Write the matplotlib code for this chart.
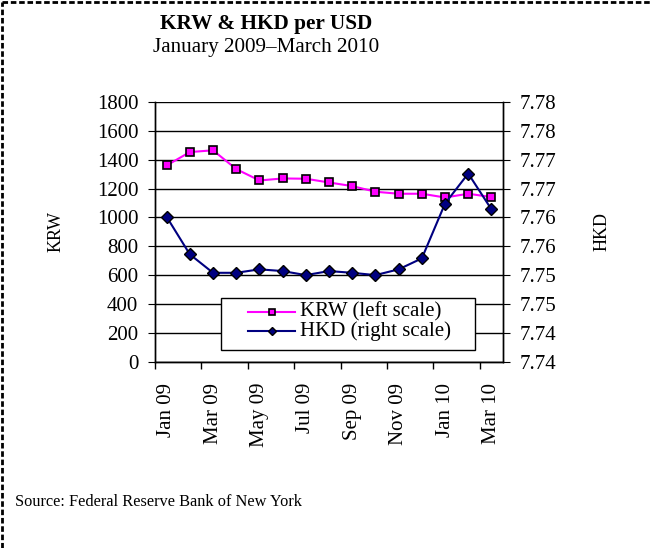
import matplotlib
matplotlib.use("Agg")
import matplotlib.pyplot as plt
from matplotlib.lines import Line2D
from matplotlib.patches import Rectangle

plt.rcParams['font.family'] = ['Liberation Serif', 'DejaVu Serif']

# monthly averages, Jan 2009 - Mar 2010
months = ['Jan 09', 'Feb 09', 'Mar 09', 'Apr 09', 'May 09', 'Jun 09', 'Jul 09',
          'Aug 09', 'Sep 09', 'Oct 09', 'Nov 09', 'Dec 09', 'Jan 10', 'Feb 10', 'Mar 10']
krw = [1360, 1453, 1465, 1335, 1256, 1270, 1268, 1242, 1217, 1178, 1164, 1164, 1138, 1164, 1141]
hkd = [7.7651, 7.7586, 7.7554, 7.7554, 7.7560, 7.7557, 7.7550, 7.7557, 7.7554, 7.7550,
       7.7560, 7.7579, 7.7674, 7.7726, 7.7664]

krw_ticks = [0, 200, 400, 600, 800, 1000, 1200, 1400, 1600, 1800]
hkd_ticks = [7.740, 7.745, 7.750, 7.755, 7.760, 7.765, 7.770, 7.775, 7.780, 7.785]
hkd_tick_labels = ['7.74', '7.74', '7.75', '7.75', '7.76', '7.76', '7.77', '7.77', '7.78', '7.78']

KRW_COLOR = '#FF00FF'
HKD_COLOR = '#000080'
krw_style = dict(color=KRW_COLOR, lw=1.5, marker='s', mfc=KRW_COLOR, mec='black', mew=1.2)
hkd_style = dict(color=HKD_COLOR, lw=1.5, marker='D', mfc=HKD_COLOR, mec='black', mew=1.0)

fig = plt.figure(figsize=(6.5, 5.48), dpi=100)
ax = fig.add_axes([0.2385, 0.340, 0.5354, 0.4739])
ax2 = ax.twinx()

x = list(range(len(months)))

ax.plot(x, krw, ms=6, **krw_style)
ax2.plot(x, hkd, ms=6, **hkd_style)

ax.set_xlim(-0.5, len(months) - 0.5)
ax.set_ylim(0, 1800)
ax.set_yticks(krw_ticks)
ax2.set_ylim(hkd_ticks[0], hkd_ticks[-1])
ax2.set_yticks(hkd_ticks)
ax2.set_yticklabels(hkd_tick_labels)

# category boundaries get the ticks, every other month gets a label
ax.set_xticks([i - 0.5 for i in range(0, len(months), 2)])
ax.set_xticklabels([])
ax.set_xticks(x[::2], minor=True)
ax.set_xticklabels(months[::2], minor=True, rotation=90, fontsize=15)
ax.tick_params(axis='x', which='minor', length=0, pad=15)
ax.tick_params(axis='x', which='major', length=5, width=1, direction='out')
ax.tick_params(axis='y', labelsize=15, length=5, direction='out', pad=7)
ax2.tick_params(axis='y', labelsize=15, length=5, direction='out', pad=7)

ax.grid(axis='y', color='black', lw=1)
ax.set_axisbelow(True)
for a in (ax, ax2):
    a.spines['top'].set_visible(False)
    for s in ('left', 'right', 'bottom'):
        a.spines[s].set_linewidth(1)

ax.set_ylabel('KRW', fontsize=13)
ax.yaxis.set_label_coords(-0.259, 0.5)
ax2.set_ylabel('HKD', fontsize=13)
ax2.yaxis.set_label_coords(1.259, 0.5)

# legend box, drawn in axes coordinates
ax2.add_patch(Rectangle((0.19, 0.045), 0.73, 0.20, transform=ax2.transAxes,
                        facecolor='white', edgecolor='black', lw=1, zorder=5))
for yy, style, name in ((0.191, krw_style, 'KRW (left scale)'),
                        (0.118, hkd_style, 'HKD (right scale)')):
    line_style = {k: v for k, v in style.items() if k not in ('marker', 'mfc', 'mec', 'mew')}
    ax2.add_line(Line2D([0.267, 0.402], [yy, yy], transform=ax2.transAxes,
                        zorder=6, **line_style))
    ax2.add_line(Line2D([0.335], [yy], transform=ax2.transAxes, ls='none',
                        ms=4.5, zorder=7,
                        **{k: v for k, v in style.items() if k not in ('lw',)}))
    ax2.text(0.417, yy, name, transform=ax2.transAxes, ha='left', va='center',
             fontsize=15, zorder=8)

fig.text(0.409, 0.957, 'KRW & HKD per USD', ha='center', va='center',
         fontsize=15.3, fontweight='bold')
fig.text(0.409, 0.914, 'January 2009\u2013March 2010', ha='center', va='center',
         fontsize=15.2)
fig.text(0.023, 0.084, 'Source: Federal Reserve Bank of New York', ha='left',
         va='center', fontsize=11.8)

# dashed frame along top and left edges
fig.add_artist(Line2D([0.003, 1.0], [0.996, 0.996], transform=fig.transFigure,
                      color='black', lw=2, ls=(0, (2, 1))))
fig.add_artist(Line2D([0.003, 0.003], [0.0, 0.996], transform=fig.transFigure,
                      color='black', lw=2, ls=(0, (2, 1))))

fig.savefig('out.png', dpi=100)
